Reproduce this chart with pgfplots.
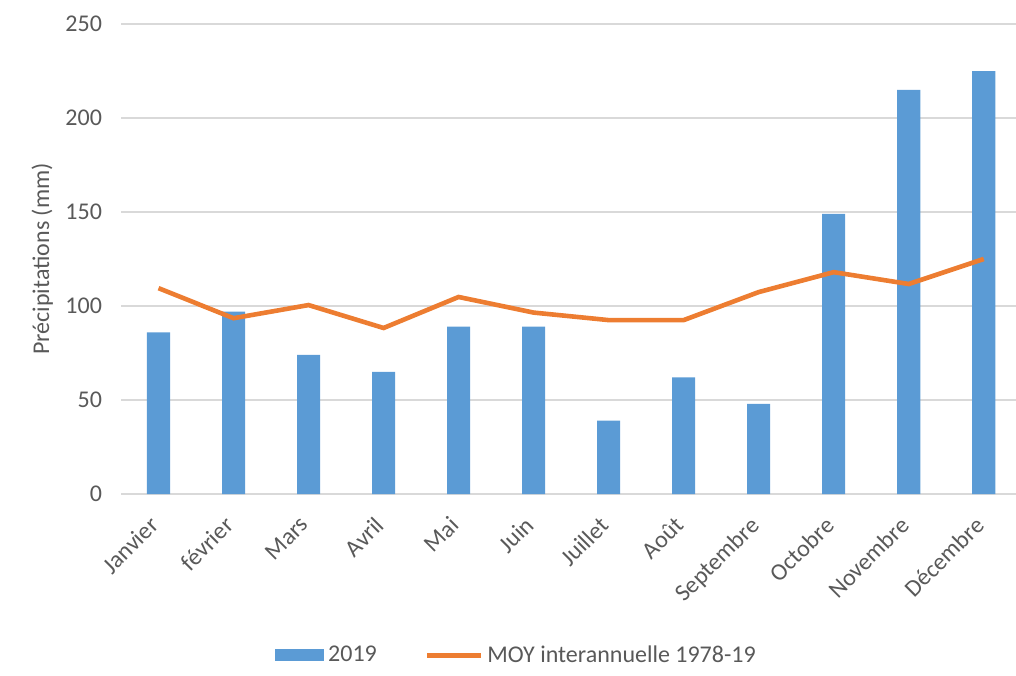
\documentclass[border=0pt]{standalone}
\usepackage{pgfplots}
\pgfplotsset{compat=1.18}
\usepackage{fontspec}
\setmainfont{Carlito}
\definecolor{barblue}{HTML}{5B9BD5}
\definecolor{lineorange}{HTML}{ED7D31}
\definecolor{gridgray}{HTML}{D9D9D9}
\definecolor{textgray}{HTML}{595959}
\begin{document}
\begin{tikzpicture}[font=\fontsize{12pt}{14pt}\selectfont]
\path[use as bounding box] (0,0) rectangle (508pt,337.5pt);
\begin{axis}[
  at={(60.5pt,90.5pt)}, anchor=south west,
  scale only axis, width=447.5pt, height=235pt,
  xmin=-0.5, xmax=11.43, ymin=0, ymax=250,
  ytick={0,50,100,150,200,250},
  xtick={0,...,11},
  xticklabels={Janvier,février,Mars,Avril,Mai,Juin,Juillet,Août,Septembre,Octobre,Novembre,Décembre},
  xticklabel style={xshift=-5pt, yshift=-9pt, rotate=45, anchor=north east, inner sep=1pt, text=textgray},
  yticklabel style={text=textgray, xshift=-6pt},
  /pgf/number format/assume math mode=true,
  major tick length=0pt,
  axis lines*=left,
  axis line style={draw=none},
  ymajorgrids, grid style={gridgray, line width=0.75pt},
  ylabel={Précipitations (mm)},
  ylabel style={text=textgray, at={(axis description cs:-0.088,0.5)}, anchor=center},
  legend columns=2,
  legend style={draw=none, fill=none, at={(axis description cs:0.443,-0.343)}, anchor=center, text=textgray,
    /tikz/every even column/.append style={column sep=22pt}},
  clip=true,
]
\draw[gridgray, line width=1pt] (axis cs:-0.5,0) -- (axis cs:11.43,0);
\addplot[ybar, bar width=0.307, fill=barblue, draw=none,
  legend image code/.code={\fill[barblue] (0pt,-3pt) rectangle (24.5pt,3pt);}]
  coordinates {(0,86) (1,97) (2,74) (3,65) (4,89) (5,89) (6,39) (7,62) (8,48) (9,149) (10,215) (11,225)};
\addlegendentry{2019}
\addplot[lineorange, line width=2.3pt, mark=none,
  legend image code/.code={\draw[lineorange, line width=2.3pt] (0pt,0pt) -- (27pt,0pt);}]
  coordinates {(0,109.5) (1,93.5) (2,100.5) (3,88.3) (4,104.8) (5,96.5) (6,92.5) (7,92.5) (8,107.4) (9,118) (10,111.7) (11,125)};
\addlegendentry{MOY interannuelle 1978-19}
\end{axis}
\end{tikzpicture}
\end{document}
